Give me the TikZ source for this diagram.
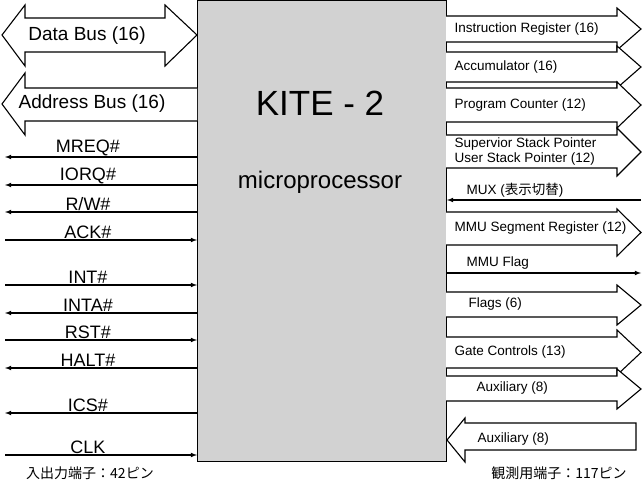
\documentclass[tikz,border=0pt]{standalone}
\usepackage{fontspec}
\setmainfont{Liberation Sans}
\newfontfamily\jpfont{Noto Sans CJK JP}
\begin{document}
% one unit = one pixel of the reference
\newcommand\outbus[5]{% shaft top, shaft bottom, head top, head bottom, label
  \draw[bus] (446,#1) -- (617,#1) -- (617,#3) -- (641,{(#3+#4)/2}) -- (617,#4) -- (617,#2) -- (446,#2) ;
  \node[rlabel] at (453,{(#1+#2)/2}) {#5} ;}
\begin{tikzpicture}[x=1pt, y=-1pt, line width=1.1pt,
    bus/.style={fill=white, line join=miter},
    sig/.style={-latex},
    llabel/.style={font=\fontsize{18}{19}\selectfont, anchor=south, inner sep=1pt},
    rlabel/.style={font=\fontsize{13.5}{14}\selectfont, anchor=west, inner sep=1pt}]
  \useasboundingbox (0,0) rectangle (643,486) ;
  % chip body
  \draw[fill=gray!35, line width=0.8pt] (197,0) rectangle (446,461) ;
  \node (kite) at (320,103) {\fontsize{35}{37}\selectfont KITE - 2} ;
  \node (micro) at (320,182) {\fontsize{24}{26}\selectfont microprocessor} ;
  % left buses
  \draw[bus] (197,35) -- (165,5) -- (165,18) -- (25,18) -- (25,5) -- (2,35) -- (25,66) -- (25,52) -- (165,52) -- (165,66) -- cycle ;
  \node[font=\fontsize{19}{20}\selectfont] (data) at (87,36) {Data Bus (16)} ;
  \draw[bus] (197,88) -- (25,88) -- (25,73) -- (2,104) -- (25,135) -- (25,121) -- (197,121) ;
  \node[font=\fontsize{19}{20}\selectfont] (addr) at (92,104) {Address Bus (16)} ;
  % left signals
  \foreach \y/\t/\d in {157/MREQ\#/l, 185/IORQ\#/l, 212/R\slash W\#/l, 240/ACK\#/r,
      285/INT\#/r, 313/INTA\#/l, 340/RST\#/r, 368/HALT\#/l, 413/ICS\#/l, 455/CLK/r}{
    \if l\d \draw[sig] (197,\y) -- (5,\y) ; \else \draw[sig] (5,\y) -- (197,\y) ; \fi
    \node[llabel] at (88,\y) {\t} ;
  }
  % right buses
  \outbus{16}{42}{8}{50}{Instruction Register (16)}
  \outbus{52}{82}{46}{88}{Accumulator (16)}
  \outbus{88}{122}{82}{128}{Program Counter (12)}
  \outbus{135}{168}{128}{176}{\shortstack[l]{Supervior Stack Pointer\\User Stack Pointer (12)}}
  \draw[sig] (641,200) -- (447,200) ;
  \node[rlabel, anchor=south west] (mux) at (465,199) {MUX ({\jpfont 表示切替})} ;
  \outbus{212}{245}{209}{256}{MMU Segment Register (12)}
  \draw[sig] (446,273) -- (641,273) ;
  \node[rlabel, anchor=south west] (mmuf) at (465,271) {MMU Flag} ;
  \outbus{292}{317}{285}{325}{\hspace{14pt}Flags (6)}
  \outbus{337}{368}{330}{375}{Gate Controls (13)}
  \outbus{376}{401}{369}{409}{\hspace{22pt}Auxiliary (8)}
  \draw[bus] (636,423) -- (465,423) -- (465,418) -- (447,440) -- (465,462) -- (465,450) -- (636,450) -- cycle ;
  \node[rlabel] (auxin) at (476,439) {Auxiliary (8)} ;
  % pin counts
  \node[font=\jpfont\fontsize{14}{15}\selectfont] (lpins) at (90,473) {入出力端子：42ピン} ;
  \node[font=\jpfont\fontsize{14}{15}\selectfont] (rpins) at (559,473) {観測用端子：117ピン} ;
\end{tikzpicture}
\end{document}
